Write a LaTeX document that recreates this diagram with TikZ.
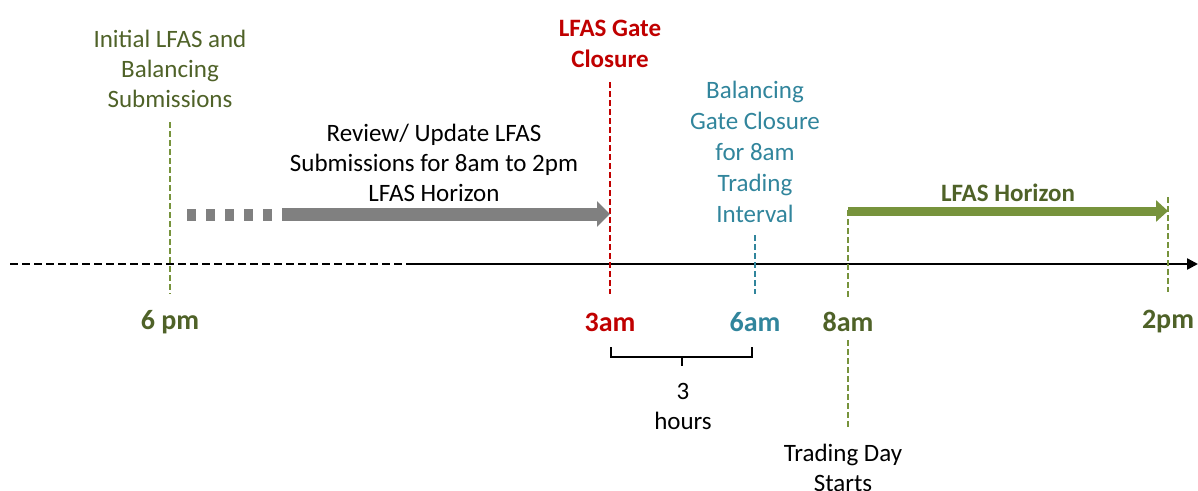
\documentclass[tikz,border=0pt]{standalone}
\usepackage{fontspec}
\setmainfont{Carlito}
\usetikzlibrary{arrows.meta}
\definecolor{olivetxt}{HTML}{4F6228}
\definecolor{oliveln}{HTML}{77933C}
\definecolor{redc}{HTML}{C00000}
\definecolor{tealc}{HTML}{31859C}
\definecolor{greyc}{HTML}{808080}
\begin{document}
\begin{tikzpicture}[x=1pt,y=-1pt,
  txt/.style={inner sep=0pt,align=center,font=\fontsize{25}{30}\selectfont},
  btxt/.style={inner sep=0pt,align=center,font=\fontsize{25}{31}\selectfont\bfseries},
  tlabel/.style={inner sep=0pt,font=\fontsize{28}{32}\selectfont\bfseries},
  vdash/.style={line width=2.5pt,dash pattern=on 6pt off 3pt},
]
\useasboundingbox (0,0) rectangle (1198,490);
% axis
\coordinate (ax0) at (10,264);
\coordinate (ax1) at (410,264);
\coordinate (ax2) at (1198,264);
\draw[line width=2.4pt,dash pattern=on 8pt off 4pt] (ax0) -- (ax1);
\draw[line width=2.4pt,-{Triangle[length=11pt,width=11pt]}] (ax1) -- (ax2);

% vertical markers
\coordinate (v1t) at (170,122); \coordinate (v1b) at (170,294);
\draw[vdash,oliveln] (v1t) -- (v1b);
\coordinate (v2t) at (610,82); \coordinate (v2b) at (610,294);
\draw[vdash,redc] (v2t) -- (v2b);
\coordinate (v3t) at (755,235); \coordinate (v3b) at (755,294);
\draw[vdash,tealc] (v3t) -- (v3b);
\coordinate (v4t) at (848,210); \coordinate (v4b) at (848,299);
\draw[vdash,oliveln] (v4t) -- (v4b);
\coordinate (v5t) at (1168,197); \coordinate (v5b) at (1168,292);
\draw[vdash,oliveln] (v5t) -- (v5b);
\coordinate (v6t) at (848,340); \coordinate (v6b) at (848,429);
\draw[vdash,oliveln] (v6t) -- (v6b);

% grey arrow
\coordinate (g0) at (187,215); \coordinate (g1) at (276,215);
\coordinate (g2) at (282,214); \coordinate (g3) at (610,214);
\draw[greyc,line width=12pt,dash pattern=on 9pt off 10pt] (g0) -- (g1);
\draw[greyc,line width=13pt,-{Triangle[length=13pt,width=25pt]}] (g2) -- (g3);

% green arrow
\coordinate (h0) at (848,211); \coordinate (h1) at (1168,211);
\draw[oliveln,line width=9pt,-{Triangle[length=12pt,width=21pt]}] (h0) -- (h1);

% texts
\node[txt,text=olivetxt] (init) at (170,69) {Initial LFAS and\\Balancing\\Submissions};
\node[txt] (review) at (434,163) {Review/ Update LFAS\\Submissions for 8am to 2pm\\LFAS Horizon};
\node[btxt,text=redc] (gate) at (610,44) {LFAS Gate\\Closure};
\node[txt,text=tealc,font=\fontsize{25}{31}\selectfont] (bal) at (755,152) {Balancing\\Gate Closure\\for 8am\\Trading\\Interval};
\node[btxt,text=olivetxt] (hor) at (1008,193) {LFAS Horizon};

\node[tlabel,text=olivetxt] (l6pm) at (170,322) {6 pm};
\node[tlabel,text=redc] (l3am) at (610,322) {3am};
\node[tlabel,text=tealc] (l6am) at (755,322) {6am};
\node[tlabel,text=olivetxt] (l8am) at (848,322) {8am};
\node[tlabel,text=olivetxt] (l2pm) at (1168,322) {2pm};

% bracket
\coordinate (bl) at (611,347); \coordinate (br) at (752,347);
\coordinate (bm) at (682,357); \coordinate (bt) at (682,366);
\draw[line width=1.3pt] (bl) |- (bm) -| (br);
\draw[line width=1.3pt] (bm) -- (bt);
\node[txt] (three) at (683,406) {3\\hours};
\node[txt] (trade) at (843,468) {Trading Day\\Starts};
\end{tikzpicture}
\end{document}
